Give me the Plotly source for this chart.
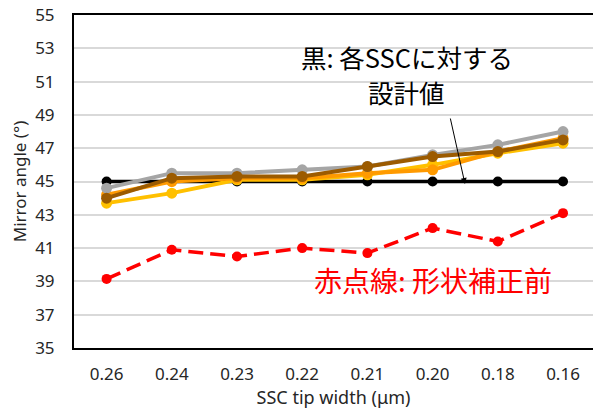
import plotly.graph_objects as go

# SSC tip widths (category axis, widest to narrowest)
tip_width = ["0.26", "0.24", "0.23", "0.22", "0.21", "0.20", "0.18", "0.16"]

# Mirror angle (deg) for each SSC tip width
design = [45.0, 45.0, 45.0, 45.0, 45.0, 45.0, 45.0, 45.0]
run_yellow = [43.7, 44.3, 45.1, 45.1, 45.4, 46.0, 46.7, 47.3]
run_orange = [44.2, 45.0, 45.2, 45.2, 45.5, 45.7, 46.8, 47.6]
run_gray = [44.6, 45.5, 45.5, 45.7, 45.9, 46.6, 47.2, 48.0]
run_brown = [44.0, 45.2, 45.3, 45.3, 45.9, 46.5, 46.8, 47.5]
before_corr = [39.15, 40.9, 40.5, 41.0, 40.7, 42.2, 41.4, 43.1]

FONT = "Noto Sans, Noto Sans CJK JP, sans-serif"
CJK = "Noto Sans CJK JP, sans-serif"

fig = go.Figure()


def add_series(y, color, width=4, msize=11, dash="solid"):
    fig.add_trace(go.Scatter(
        x=tip_width, y=y, mode="lines+markers",
        line=dict(color=color, width=width, dash=dash),
        marker=dict(color=color, size=msize),
        showlegend=False, hoverinfo="x+y",
    ))


add_series(design, "#000000", width=3.5, msize=10)
add_series(run_yellow, "#FFC000")
add_series(run_orange, "#FF9A00")
add_series(run_gray, "#A5A5A5")
add_series(run_brown, "#9C5B00")
add_series(before_corr, "#FF0000", width=3.5, msize=10, dash="15px,7px")

fig.update_layout(
    width=593, height=411,
    margin=dict(l=74, r=0, t=15, b=63),
    paper_bgcolor="white", plot_bgcolor="white",
    font=dict(family=FONT, color="#262626", size=17),
)

fig.update_xaxes(
    type="category", range=[-0.5, 7.46],
    showline=True, linecolor="#000000", linewidth=2, mirror=True,
    showgrid=False, ticks="", ticklabelstandoff=10,
    tickfont=dict(size=17),
    title=dict(text="SSC tip width (μm)", font=dict(size=18), standoff=3),
)
fig.update_yaxes(
    range=[35, 55], tickvals=list(range(35, 56, 2)),
    showline=True, linecolor="#000000", linewidth=2, mirror=False,
    showgrid=True, gridcolor="#D9D9D9", gridwidth=1.5,
    zeroline=False, ticks="", ticklabelstandoff=14,
    tickfont=dict(size=17),
    title=dict(text="Mirror angle (°)", font=dict(size=17), standoff=4),
)

# Annotation labels
label_style = dict(xref="paper", yref="paper", showarrow=False,
                   xanchor="center", yanchor="middle")
fig.add_annotation(
    x=0.6416, y=0.874, text="黒: 各SSCに対する",
    font=dict(family=CJK, size=25.5, color="#000000"), **label_style,
)
fig.add_annotation(
    x=0.6416, y=0.769, text="設計値",
    font=dict(family=CJK, size=25.5, color="#000000"), **label_style,
)
fig.add_annotation(
    x=0.6917, y=0.204, text="赤点線: 形状補正前",
    font=dict(family=CJK, size=28, color="#FF0000"), **label_style,
)
# Arrow pointing at the design-value line
fig.add_annotation(
    xref="paper", yref="paper", x=0.7534, y=0.4925,
    ax=-15, ay=-67, text="", showarrow=True,
    arrowhead=2, arrowsize=1.2, arrowwidth=1, arrowcolor="#000000",
)

fig.write_html("out.html")
